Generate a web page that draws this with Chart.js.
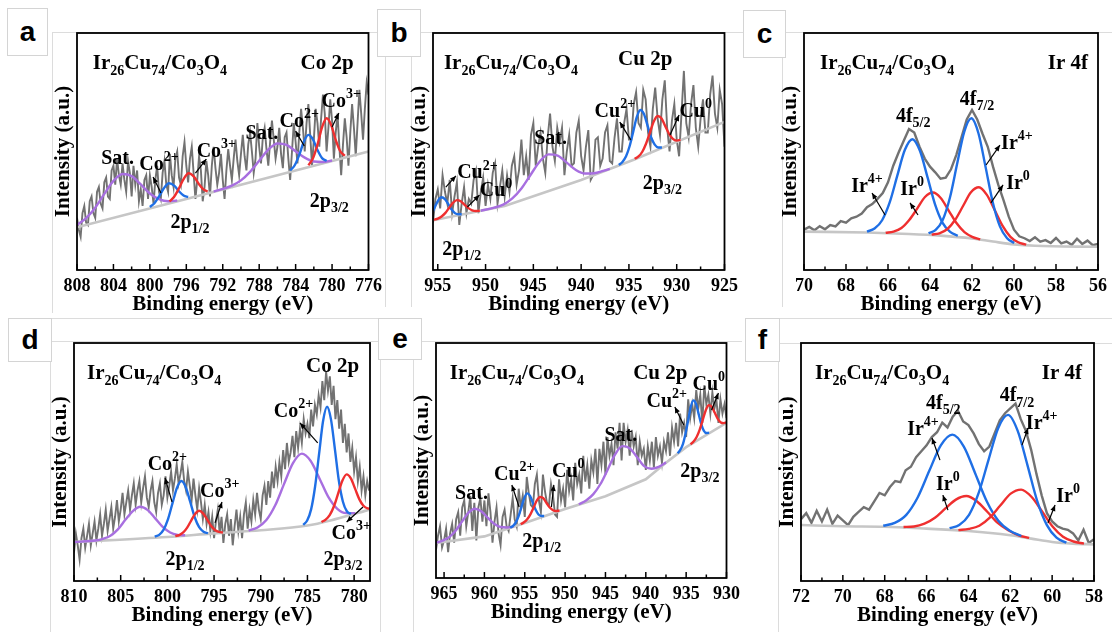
<!DOCTYPE html>
<html>
<head>
<meta charset="utf-8">
<script src="https://cdn.jsdelivr.net/npm/chart.js@4.4.1/dist/chart.umd.min.js"></script>
<style>
  body { margin: 0; background: #fff; width: 1112px; height: 632px; position: relative; overflow: hidden; }
  canvas { position: absolute; }
  .tag { position: absolute; background: #fff; border: 1px solid #d4d4d4; font: bold 28px "Liberation Sans", Arial, sans-serif;
         display: flex; align-items: center; justify-content: center; box-sizing: border-box; }
  .ln { position: absolute; border-color: #dcdcdc; border-style: solid; border-width: 0; }
</style>
</head>
<body>
<div class="ln" style="left:52px;top:32px;width:330px;height:280px;border-left-width:1px;border-top-width:1px"></div>
<div class="ln" style="left:385px;top:57px;width:25px;height:250px;border-left-width:1px;border-right-width:1px"></div>
<div class="ln" style="left:421px;top:32px;width:330px;height:1px;border-top-width:1px"></div>
<div class="ln" style="left:782px;top:57px;width:1px;height:250px;border-left-width:1px"></div>
<div class="ln" style="left:785px;top:32px;width:327px;height:1px;border-top-width:1px"></div>
<div class="ln" style="left:50px;top:318px;width:330px;height:314px;border-left-width:1px;border-top-width:1px"></div>
<div class="ln" style="left:52px;top:341px;width:330px;height:1px;border-top-width:1px"></div>
<div class="ln" style="left:422px;top:341px;width:320px;height:1px;border-top-width:1px"></div>
<div class="ln" style="left:380px;top:360px;width:32px;height:272px;border-left-width:1px;border-right-width:1px"></div>
<div class="ln" style="left:780px;top:318px;width:332px;height:24px;border-top-width:1px;border-bottom-width:1px"></div>
<div class="ln" style="left:778px;top:362px;width:1px;height:270px;border-left-width:1px"></div>
<div class="tag" style="left:7px;top:8px;width:41px;height:48px">a</div>
<div class="tag" style="left:377px;top:9px;width:44px;height:48px">b</div>
<div class="tag" style="left:743px;top:10px;width:43px;height:48px">c</div>
<div class="tag" style="left:8px;top:318px;width:44px;height:44px">d</div>
<div class="tag" style="left:378px;top:318px;width:44px;height:42px">e</div>
<div class="tag" style="left:745px;top:318px;width:35px;height:44px">f</div>
<script>
const SERIF = '"Liberation Serif", "Times New Roman", serif';
const BLUE = '#1f6fe5', RED = '#ef2f2f', PURPLE = '#a86fe0', RAW = '#727272', BASE = '#c6c6c6';
const TITLE = 'Ir_{26}Cu_{74}/Co_{3}O_{4}';

// ---- panel a : Co 2p ----
const aTicks = [808, 804, 800, 796, 792, 788, 784, 780, 776];
const aRawStart = 808, aRawStep = -0.2;
const aRaw = [22,17,14,24,27,20,19,29,31,24,22,33,35,28,26,37,39,31,30,42,44,
  36,47,40,36,45,38,33,46,41,31,44,36,42,29,34,27,38,40,30,40,
  35,28,38,44,33,30,41,46,36,33,49,40,35,47,50,39,36,48,54,44,
  37,47,52,41,30,38,48,42,29,35,46,40,31,44,52,43,36,41,49,38,
  30,42,51,44,38,47,55,46,40,49,57,48,42,53,58,50,41,47,62,52,
  45,56,60,51,44,54,63,55,47,52,60,49,43,56,58,47,38,50,62,54,
  45,58,68,60,50,62,70,57,44,55,68,62,52,64,74,66,50,60,72,63,
  47,58,66,52,40,53,64,56,44,58,70,60,48,62,76,66,55,68,79,74];
const aBase = [[808,18],[796,30],[784,42],[776,50]];
const aSat1 = [[808,19.0],[807,21.9],[806,26.3],[805,32.1],[804,37.6],[803,40.5],[802,39.6],[801,36.1],[800,32.3],[799,29.9],[798,29.0],[797,29.3]];
const aCo2Low = [[800,26.6],[799.5,28.2],[799,31],[798.5,34.3],[797.9,36.6],[797.3,35.5],[796.8,33.2],[796.3,31.4],[795.8,30.8]];
const aCo3Low = [[797.85,28.9],[797.35,30.8],[796.85,34.1],[796.35,38.0],[795.75,40.8],[795.15,39.3],[794.65,36.4],[794.15,34.1],[793.65,33.1]];
const aSat2 = [[793,33.1],[792,34.2],[791,35.6],[790,37.8],[789,41.4],[788,46.1],[787,50.8],[786,53.4],[785,52.8],[784,50.1],[783,47.4],[782,45.8],[781,45.6],[780,46.2]];
const aCo2High = [[784.6,42.0],[784.1,44.2],[783.6,48.6],[783.1,54.1],[782.6,57.0],[782.1,55.1],[781.6,50.6],[781.1,47.2],[780.6,46.0]];
const aCo3High = [[782.6,44.2],[782.1,47.1],[781.6,52.9],[781.1,60.2],[780.6,64.0],[780.1,61.2],[779.6,54.9],[779.1,50.1],[778.6,48.2]];
const aNotes = [[TITLE,806.26,87.8,'left',21],['Co 2p',780.55,87.8,'',21],['Sat.',803.55,47.7],['Co^{2+}',799.0,45.1],['Co^{3+}',792.7,50.6],
  ['Sat.',787.7,58.2],['Co^{2+}',783.6,63.3],['Co^{3+}',779.0,71.7],['2p_{1/2}',795.6,20.7],['2p_{3/2}',780.3,29.5]];
const aArrows = [[798.78,32.5,799.65,39.2],[795.0,40.9,793.8,46.8],[783.05,52.3,784.0,58.6],[780.0,60.3,779.25,66.2]];

// ---- panel b : Cu 2p ----
const bTicks = [955, 950, 945, 940, 935, 930, 925];
const bRawStart = 955.5, bRawStep = -0.25;
const bRaw = [20,30,34, 26,40,33,28, 38,24,31,37, 19,28,35,24, 30,28,38,42, 24,33,39,27,
  36,30,41,45, 28,35,42,31, 40,33,44,48, 36,42,55,40, 48,38,57,62, 44,52,58,47,
  41,56,66,52, 46,60,54,60, 40,50,57,44, 45,58,63,48, 42,52,59,38, 40,55,56,44,
  47,58,61,46, 45,56,64,50, 50,62,68,55, 55,70,75,62, 60,76,72,58, 52,68,77,64,
  57,72,80,60, 50,63,70,55, 48,66,84,62, 56,70,78,60, 52,64,72,58, 58,74,82,66, 60,76,70,52];
const bBase = [[955.5,21],[948,27],[940,38],[934.5,46.5],[925,62.5]];
const bCu2Low = [[955.5,24.9],[955.25,27.0],[955.0,29.1],[954.8,30.2],[954.6,30.7],[954.25,29.9],[953.9,27.8],[953.55,25.5],[953.2,24.0],[952.85,23.5],[952.5,23.5]];
const bCu0Low = [[955.4,21.2],[955.0,21.7],[954.6,22.6],[954.2,24.1],[953.8,26.3],[953.4,28.4],[953.0,29.5],[952.6,29.0],[952.2,27.5],[951.8,26.1],[951.4,25.2],[951.0,24.9],[950.6,25.0]];
const bSat = [[950.5,25.0],[949.1,26.3],[948.15,27.6],[947.2,30.2],[946.25,34.4],[945.3,40.1],[944.35,45.7],[943.4,48.8],[942.45,48.3],[941.5,45.3],[940.55,42.2],[939.6,40.7],[938.65,40.8],[937.7,41.8],[937,42.7]];
const bCu2High = [[936.05,44.3],[935.68,45.6],[935.3,48.0],[934.93,52.2],[934.55,58.4],[934.18,64.5],[933.8,67.5],[933.43,65.8],[933.05,60.9],[932.68,56.0],[932.3,52.9],[931.93,51.7],[931.55,51.7]];
const bCu0High = [[934.4,46.9],[934.0,47.9],[933.6,49.9],[933.2,53.4],[932.8,58.0],[932.4,62.7],[932.0,65.0],[931.6,64.0],[931.2,60.7],[930.8,57.4],[930.4,55.3],[930.0,54.6],[929.6,54.9]];
const bNotes = [[TITLE,954.36,87.8,'left',21],['Cu 2p',933.3,89.5,'',21],['Cu^{2+}',950.85,41.4],['Cu^{0}',948.9,33.8],['Sat.',943.2,56.1],
  ['Cu^{2+}',936.47,67.5],['Cu^{0}',928.0,67.5],['2p_{1/2}',952.5,9.3],['2p_{3/2}',931.5,37.1]];
const bArrows = [[954.16,35.0,953.1,39.7],[951.9,26.6,950.64,31.6],[934.8,54.9,935.96,62.4],[930.7,57,929.75,65.4]];

// ---- panel c : Ir 4f ----
const cTicks = [70, 68, 66, 64, 62, 60, 58, 56];
const cRawStart = 70, cRawStep = -0.25;
const cRaw = [17.0,18.2,16.8,18.5,17.2,19.0,18.4,20.6,20.0,21.8, 22.5,23.8,26.5,27.8,30.0,32.5,37.0,44.0,49.5,54.5,
  59.5,58.0,52.0,47.0,43.6,41.2,38.5,39.0,42.5,48.5, 56.0,63.5,67.5,63.5,57.5,52.0,43.6,36.0,29.5,22.5,
  17.0,14.2,13.4,12.2,13.8,12.0,12.6,11.4,13.5,11.2, 12.0,10.6,13.2,11.0,12.4,10.5,11.0];
const cBase = [[70,16.2],[67,15.8],[65,15.2],[63.5,14.5],[62,13.3],[61,12],[60,10.8],[59,10.2],[56,9.8]];
const cIr4Low = [[67.0,16.2],[66.64,17.5],[66.28,21.0],[65.92,28.5],[65.56,39.7],[65.2,50.6],[64.84,55.2],[64.48,50.3],[64.12,39.2],[63.76,27.7],[63.4,19.9],[63.04,16.1],[62.68,14.4]];
const cIr0Low = [[66.11,15.7],[65.74,16.2],[65.36,17.7],[64.99,21.1],[64.61,25.9],[64.24,30.8],[63.86,32.7],[63.49,30.4],[63.11,25.1],[62.74,19.8],[62.36,16.0],[61.99,14.0],[61.61,12.9]];
const cIr4High = [[64.07,15.5],[63.73,16.9],[63.39,21.2],[63.05,30.6],[62.71,44.7],[62.37,58.3],[62.03,64.0],[61.69,57.6],[61.35,43.3],[61.01,28.5],[60.67,18.4],[60.33,13.4],[59.99,11.4]];
const cIr0High = [[63.92,14.9],[63.55,15.5],[63.17,17.3],[62.8,21.2],[62.42,27.1],[62.05,32.8],[61.67,34.9],[61.3,31.8],[60.92,25.3],[60.55,18.7],[60.17,14.0],[59.8,11.7],[59.42,10.7]];
const cNotes = [[TITLE,69.24,87.8,'left',21],['Ir 4f',57.43,87.8,'',21],['4f_{5/2}',64.8,65.4],['4f_{7/2}',61.76,72.6],
  ['Ir^{4+}',67.0,35.9],['Ir^{0}',64.85,34.6],['Ir^{4+}',59.86,54],['Ir^{0}',59.81,37.1]];
const cArrows = [[66.14,23.2,66.76,32.5],[64.57,23.2,64.95,28.3],[61.33,44.3,60.67,52.7],[61.1,28.3,60.52,35.9]];

// ---- panel d : Co 2p ----
const dTicks = [810, 805, 800, 795, 790, 785, 780];
const dRawStart = 810, dRawStep = -0.2;
const dRaw = [12,20,15,9,18,22,14,19,24,15, 20,25,17,22,28,19,24,30,21,26, 31,22,27,34,25,30,37,28,33,38,
  30,36,41,32,38,42,33,39,44,35, 31,38,42,33,29,37,41,32,36,44, 35,40,46,38,43,49,41,45,50,42,
  38,46,40,34,43,36,30,39,33,26, 32,24,29,21,27,18,25,30,20,27, 16,24,28,19,26,15,23,30,21,27,
  18,28,33,22,30,25,34,28,37,30, 26,36,40,32,42,35,46,39,48,42, 50,44,55,47,58,50,54,61,52,63,
  56,64,58,68,62,66,60,72,65,74, 70,78,73,84,76,88,80,86,74,82, 68,76,64,72,58,66,54,62,50,56,
  46,52,42,48,38,44,36,42,38];
const dBase = [[810,16.4],[800,18.5],[795,20],[790,21.3],[785,23.3],[782,26],[778.3,30]];
const dSat1 = [[810,16.4],[807.7,17.0],[806.9,17.7],[806.1,19.0],[805.3,21.7],[804.5,25.7],[803.7,29.4],[802.9,31.2],[802.1,29.8],[801.3,26.3],[800.5,22.7],[799.7,20.4],[798.9,19.4],[798.1,19.2]];
const dCo2Low = [[801.35,18.6],[800.88,19.4],[800.4,21.6],[799.93,26.0],[799.45,32.7],[798.98,39.1],[798.5,42.0],[798.03,39.4],[797.55,33.2],[797.08,26.9],[796.6,22.6],[796.13,20.7],[795.65,20.1]];
const dCo3Low = [[799.15,18.9],[798.73,19.3],[798.3,20.4],[797.88,22.4],[797.45,25.4],[797.03,28.2],[796.6,29.5],[796.18,28.4],[795.75,25.9],[795.33,23.2],[794.9,21.4],[794.48,20.6],[794.05,20.4]];
const dSat2 = [[791.3,21.2],[790.35,22.5],[789.4,25.6],[788.45,31.8],[787.5,40.8],[786.55,49.5],[785.6,53.5],[784.65,50.4],[783.7,43.0],[782.75,35.2],[781.8,30.3],[780.85,28.5],[779.9,28.5]];
const dCo2High = [[785.45,23.6],[785.03,25.4],[784.6,30.2],[784.18,39.7],[783.75,53.5],[783.33,67.1],[782.9,73.2],[782.48,67.9],[782.05,55.1],[781.63,42.0],[781.2,33.3],[780.78,29.3],[780.35,28.2]];
const dCo3High = [[783.5,24.8],[783.05,25.8],[782.6,27.8],[782.15,31.5],[781.7,36.9],[781.25,42.2],[780.8,44.8],[780.35,43.1],[779.9,38.8],[779.45,34.4],[779.0,31.6],[778.55,30.5],[778.3,30.4]];
const dNotes = [[TITLE,808.6,87.8,'left',21],['Co 2p',782.3,90.8,'',21],['Co^{2+}',800.0,49.6],['Co^{3+}',794.4,38.2],
  ['Co^{2+}',786.5,71.8],['Co^{3+}',780.3,20.6],['2p_{1/2}',798.1,9.7],['2p_{3/2}',781.2,9.7]];
const dArrows = [[799.5,33.2,800.25,43.3],[794.9,24.4,794.15,33.2],[783.9,58,785.8,66.4],[779.05,31.1,780.8,24.8]];

// ---- panel e : Cu 2p ----
const eTicks = [965, 960, 955, 950, 945, 940, 935, 930];
const eRawStart = 966, eRawStep = -0.25;
const eRaw = [12,18,22,13, 16,21,11,19, 23,15,25,28, 18,30,33,22, 28,35,20,32, 16,30,34,24,
  33,22,36,28, 15,24,30,19, 14,26,29,22, 20,27,34,25, 22,38,30,35, 26,43,36,31,
  30,40,44,33, 28,44,37,32, 31,40,35,27, 26,42,33,38, 30,46,37,42, 33,49,40,44,
  36,52,41,48, 38,50,45,55, 40,55,48,58, 44,60,52,57, 48,62,55,66, 50,66,58,63,
  52,63,56,60, 48,58,52,55, 46,56,50,58, 47,60,52,56, 49,58,54,62, 52,64,58,66,
  56,70,62,66, 60,76,68,74, 68,80,72,78, 66,82,74,78, 70,79,72,76, 66,76,70,74, 68];
const eBase = [[966,14.9],[960,17.7],[955,23.4],[950,29.4],[945,34.8],[940,42],[937.5,49],[935,55.7],[930,66]];
const eSat1 = [[966,15.0],[965.2,15.9],[964.4,17.3],[963.6,20.0],[962.8,23.9],[962.0,27.7],[961.2,29.5],[960.4,28.4],[959.6,25.7],[958.8,23.1],[958.0,21.7],[957.2,21.5],[956.4,21.9]];
const eCu2Low = [[956.8,21.4],[956.45,22.2],[956.1,23.7],[955.75,26.5],[955.4,30.3],[955.05,34.1],[954.7,36.0],[954.35,35.0],[954.0,32.0],[953.65,29.0],[953.3,27.0],[952.95,26.4],[952.6,26.4]];
const eCu0Low = [[955.5,22.9],[955.1,23.7],[954.7,25.0],[954.3,27.1],[953.9,30.0],[953.5,33.0],[953.1,34.5],[952.7,34.0],[952.3,31.9],[951.9,30.0],[951.5,28.8],[951.1,28.5],[950.7,28.7]];
const eSat2 = [[948.3,31.4],[947.4,33.0],[946.5,35.7],[945.6,40.1],[944.7,46.3],[943.8,52.6],[942.9,56.1],[942.0,55.2],[941.1,51.5],[940.2,47.6],[939.3,46.5],[938.4,47.3],[937.5,49.2]];
const eCu2High = [[936.05,53.1],[935.73,54.5],[935.4,57.0],[935.08,61.4],[934.75,67.1],[934.43,72.8],[934.1,75.6],[933.78,74.1],[933.45,69.8],[933.13,65.5],[932.8,62.6],[932.48,61.7],[932.15,61.8]];
const eCu0High = [[934.45,56.9],[934.08,58.1],[933.7,60.0],[933.33,63.0],[932.95,67.2],[932.58,71.3],[932.2,73.5],[931.83,72.9],[931.45,70.3],[931.08,67.7],[930.7,66.2],[930.33,65.9],[930,66.2]];
const eNotes = [[TITLE,964.3,87.7,'left',21],['Cu 2p',938.2,87.7,'',21],['Sat.',961.6,36.6],['Cu^{2+}',956.3,44.7],['Cu^{0}',949.6,46],
  ['Sat.',943.1,60.9],['Cu^{2+}',937.4,75.7],['Cu^{0}',932.2,83],['2p_{1/2}',952.9,16.2],['2p_{3/2}',933.3,46]];
const eArrows = [[955.7,30.2,956.6,39.6],[951.7,30.2,951.4,39.6],[935.3,65.1,936.4,72.8],[931.85,71.5,931.0,78.7]];

// ---- panel f : Ir 4f ----
const fTicks = [72, 70, 68, 66, 64, 62, 60, 58];
const fRawStart = 72, fRawStep = -0.25;
const fRaw = [26,28.5,24.5,29.5,25,30,24,27.5,25.5,23.5, 27,29,31,30,33.5,37,36,39.5,42,41.5,
  46.5,48,52,54.5,57,60.5,62.5,66.5,64.5,69, 71.5,67,65.5,62,57.5,54.5,56.5,62,67.5,70.5,
  72.5,74.5,68,63,55,45,36,28.5,25,23, 22,21.5,20,17,21.5,16,17.5];
const fBase = [[72,23.5],[70,23],[68,22.8],[66,22],[64,21],[62,19.2],[61,17.8],[60,16.4],[59,15.7],[58,15.4]];
const fIr4Low = [[68.07,23.2],[67.52,24.4],[66.97,27.8],[66.42,35.2],[65.87,46.3],[65.32,57.0],[64.77,61.5],[64.22,56.5],[63.67,45.1],[63.12,33.4],[62.57,25.3],[62.02,21.1],[61.47,18.9]];
const fIr0Low = [[67.1,22.7],[66.6,22.9],[66.1,24.1],[65.6,26.6],[65.1,30.5],[64.6,34.2],[64.1,35.7],[63.6,33.5],[63.1,29.1],[62.6,24.4],[62.1,21.3],[61.6,19.2],[61.1,18.1]];
const fIr4High = [[64.9,22.2],[64.44,23.5],[63.97,27.8],[63.51,37.0],[63.04,50.9],[62.58,64.2],[62.11,69.8],[61.65,63.2],[61.18,48.7],[60.72,33.8],[60.25,23.5],[59.79,18.2],[59.32,16.1]];
const fIr0High = [[64.48,21.4],[63.98,21.9],[63.48,23.2],[62.98,26.6],[62.48,31.7],[61.98,36.7],[61.48,38.4],[60.98,35.3],[60.48,29.2],[59.98,22.9],[59.48,18.6],[58.98,16.6],[58.48,15.7]];
const fNotes = [[TITLE,71.33,87.8,'left',21],['Ir 4f',59.53,87.8,'',21],['4f_{5/2}',65.2,75.2],['4f_{7/2}',61.68,78.2],
  ['Ir^{4+}',66.17,64.3],['Ir^{0}',64.98,41.2],['Ir^{4+}',60.5,66.8],['Ir^{0}',59.24,36.1]];
const fArrows = [[65.36,50.8,65.74,60.1],[64.98,29.8,65.22,36.1],[61.44,57.1,61.15,64.3],[60.2,24.4,59.86,31.9]];

Chart.defaults.font.family = SERIF;

function pts(list) { return list.map(p => ({ x: p[0], y: p[1] })); }
function rawPts(start, step, vals) { return vals.map((v, i) => ({ x: start + i * step, y: v })); }

function richText(ctx, str, x, y, size, align) {
  const parts = [];
  str.replace(/([\^_])\{([^}]*)\}|([^\^_]+)/g, (m, k, s, t) => {
    parts.push(t ? { t: t, k: '' } : { t: s, k: k });
  });
  const big = `bold ${size}px ${SERIF}`, small = `bold ${Math.round(size * 0.68)}px ${SERIF}`;
  let w = 0;
  parts.forEach(p => { ctx.font = p.k ? small : big; p.w = ctx.measureText(p.t).width; w += p.w; });
  let cx = align === 'left' ? x : x - w / 2;
  const base = y + size * 0.33;
  ctx.fillStyle = '#000';
  ctx.textAlign = 'left';
  ctx.textBaseline = 'alphabetic';
  parts.forEach(p => {
    ctx.font = p.k ? small : big;
    const dy = p.k === '^' ? -size * 0.42 : p.k === '_' ? size * 0.28 : 0;
    ctx.fillText(p.t, cx, base + dy);
    cx += p.w;
  });
}

// frame, inward ticks, labels and arrows
const panelPlugin = {
  id: 'panel',
  afterDatasetsDraw(chart, args, opts) {
    const { ctx, chartArea: ca, scales: { x, y } } = chart;
    ctx.save();
    ctx.strokeStyle = '#000';
    ctx.lineWidth = 1.5;
    const t = opts.ticks;
    t.forEach((v, i) => {
      const px = x.getPixelForValue(v);
      ctx.beginPath(); ctx.moveTo(px, ca.bottom); ctx.lineTo(px, ca.bottom - 6); ctx.stroke();
      const m = i < t.length - 1 ? (v + t[i + 1]) / 2 : v - (t[i - 1] - v) / 2;
      const mx = x.getPixelForValue(m);
      if (mx > ca.left + 2 && mx < ca.right - 2) {
        ctx.beginPath(); ctx.moveTo(mx, ca.bottom); ctx.lineTo(mx, ca.bottom - 3.5); ctx.stroke();
      }
    });
    ctx.lineWidth = 1.8;
    ctx.strokeRect(ca.left, ca.top, ca.right - ca.left, ca.bottom - ca.top);

    ctx.lineWidth = 1.2;
    ctx.fillStyle = '#000';
    opts.arrows.forEach(a => {
      const x1 = x.getPixelForValue(a[0]), y1 = y.getPixelForValue(a[1]);
      const x2 = x.getPixelForValue(a[2]), y2 = y.getPixelForValue(a[3]);
      const ang = Math.atan2(y2 - y1, x2 - x1);
      ctx.beginPath(); ctx.moveTo(x1, y1); ctx.lineTo(x2, y2); ctx.stroke();
      ctx.beginPath();
      ctx.moveTo(x2, y2);
      ctx.lineTo(x2 - 6 * Math.cos(ang) + 2.6 * Math.sin(ang), y2 - 6 * Math.sin(ang) - 2.6 * Math.cos(ang));
      ctx.lineTo(x2 - 6 * Math.cos(ang) - 2.6 * Math.sin(ang), y2 - 6 * Math.sin(ang) + 2.6 * Math.cos(ang));
      ctx.closePath(); ctx.fill();
    });
    opts.notes.forEach(n => {
      richText(ctx, n[0], x.getPixelForValue(n[1]), y.getPixelForValue(n[2]), n[4] || 20, n[3]);
    });
    ctx.restore();
  }
};

function line(data, color, width, smooth) {
  return { data: data, borderColor: color, borderWidth: width, pointRadius: 0, fill: false,
           cubicInterpolationMode: smooth ? 'monotone' : 'default', tension: 0 };
}

function makePanel(frame, range, ticks, peaks, base, raw, notes, arrows, baseSmooth, rawWidth) {
  const cv = document.createElement('canvas');
  const w = frame.r - frame.l + 37 + 16, h = frame.b - frame.t + 4 + 50;
  cv.width = w; cv.height = h;
  cv.style.left = (frame.l - 37) + 'px';
  cv.style.top = (frame.t - 4) + 'px';
  cv.style.width = w + 'px'; cv.style.height = h + 'px';
  document.body.appendChild(cv);
  const datasets = peaks.map(p => line(pts(p[0]), p[1], 2.4, true));
  datasets.push(line(pts(base), BASE, 2.6, baseSmooth));
  datasets.push(line(raw, RAW, rawWidth, false));
  new Chart(cv, {
    type: 'line',
    data: { datasets: datasets },
    options: {
      responsive: false, animation: false, devicePixelRatio: 1,
      layout: { padding: { top: 4, right: 16, bottom: 0, left: 0 } },
      plugins: { legend: { display: false }, tooltip: { enabled: false },
                 panel: { ticks: ticks, notes: notes, arrows: arrows } },
      scales: {
        x: {
          type: 'linear', reverse: true, min: range[0], max: range[1],
          afterBuildTicks: s => { s.ticks = ticks.map(v => ({ value: v })); },
          afterFit: s => { s.height = 50; },
          grid: { display: false, drawTicks: false }, border: { display: false },
          ticks: { color: '#000', padding: 6, maxRotation: 0, autoSkip: false,
                   font: { family: SERIF, size: 18, weight: 'bold' } },
          title: { display: true, text: 'Binding energy (eV)', color: '#000', padding: { top: 0, bottom: 3 },
                   font: { family: SERIF, size: 21, weight: 'bold' } }
        },
        y: {
          min: 0, max: 100,
          afterFit: s => { s.width = 37; },
          grid: { display: false, drawTicks: false }, border: { display: false },
          ticks: { display: false },
          title: { display: true, text: 'Intensity (a.u.)', color: '#000', padding: { top: 11, bottom: 0 },
                   font: { family: SERIF, size: 21, weight: 'bold' } }
        }
      }
    },
    plugins: [panelPlugin]
  });
}

makePanel({ l: 77, t: 33, r: 372, b: 270 }, [776, 808], aTicks,
  [[aCo3High, RED], [aCo2High, BLUE], [aSat2, PURPLE], [aCo3Low, RED], [aCo2Low, BLUE], [aSat1, PURPLE]],
  aBase, rawPts(aRawStart, aRawStep, aRaw), aNotes, aArrows, false, 1.9);
makePanel({ l: 433, t: 33, r: 728, b: 270 }, [925, 955.5], bTicks,
  [[bCu0High, RED], [bCu2High, BLUE], [bSat, PURPLE], [bCu0Low, RED], [bCu2Low, BLUE]],
  bBase, rawPts(bRawStart, bRawStep, bRaw), bNotes, bArrows, false, 1.9);
makePanel({ l: 804, t: 33, r: 1098, b: 270 }, [56, 70], cTicks,
  [[cIr4High, BLUE], [cIr0High, RED], [cIr4Low, BLUE], [cIr0Low, RED]],
  cBase, rawPts(cRawStart, cRawStep, cRaw), cNotes, cArrows, true, 2.4);
makePanel({ l: 74, t: 343, r: 370, b: 581 }, [778.3, 810], dTicks,
  [[dCo3High, RED], [dCo2High, BLUE], [dSat2, PURPLE], [dCo3Low, RED], [dCo2Low, BLUE], [dSat1, PURPLE]],
  dBase, rawPts(dRawStart, dRawStep, dRaw), dNotes, dArrows, true, 1.9);
makePanel({ l: 436, t: 343, r: 730, b: 578 }, [930, 966], eTicks,
  [[eCu0High, RED], [eCu2High, BLUE], [eSat2, PURPLE], [eCu0Low, RED], [eCu2Low, BLUE], [eSat1, PURPLE]],
  eBase, rawPts(eRawStart, eRawStep, eRaw), eNotes, eArrows, false, 1.9);
makePanel({ l: 801, t: 343, r: 1094, b: 581 }, [58, 72], fTicks,
  [[fIr4High, BLUE], [fIr0High, RED], [fIr4Low, BLUE], [fIr0Low, RED]],
  fBase, rawPts(fRawStart, fRawStep, fRaw), fNotes, fArrows, true, 2.4);
</script>
</body>
</html>
